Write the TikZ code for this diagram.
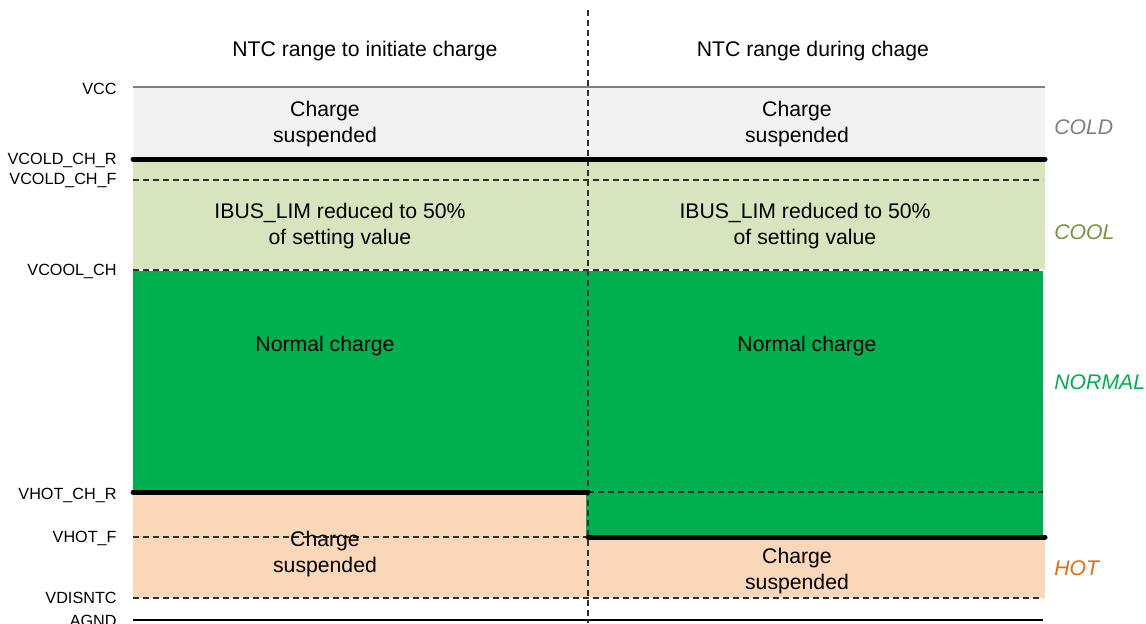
\documentclass[tikz,border=0pt]{standalone}
\usepackage{fontspec}
\setmainfont{Liberation Sans}
\definecolor{coldgray}{HTML}{F2F2F2}
\definecolor{coolgreen}{HTML}{D7E4BD}
\definecolor{normgreen}{HTML}{00B050}
\definecolor{hotpeach}{HTML}{FBD7B9}
\definecolor{coldtext}{HTML}{7F7F7F}
\definecolor{cooltext}{HTML}{77933C}
\definecolor{hottext}{HTML}{E46C0A}
\definecolor{dashgray}{HTML}{303030}

\begin{document}
\begin{tikzpicture}[
      x=0.5pt,y=-0.5pt,
      zonetext/.style={align=center,inner sep=0pt,
                   font=\fontsize{10.6}{12.6}\selectfont},
      levellabel/.style={anchor=east,inner sep=0pt,
                   font=\fontsize{8.1}{9}\selectfont},
      zonename/.style={anchor=west,inner sep=0pt,
                   font=\fontsize{10.6}{12.6}\selectfont\itshape},
      threshold/.style={line width=2.5pt,line cap=round},
      hyst/.style={dashgray,line width=0.6pt,dash pattern=on 3pt off 2pt}
    ]
    \useasboundingbox (0,0) rectangle (1146,623);
    % zones
    \fill[coldgray] (133,87) rectangle (1045,159);
    \fill[coolgreen] (133,159) rectangle (1045,269);
    \fill[normgreen] (133,271) rectangle (1043,492);
    \fill[normgreen] (586,492) rectangle (1043,537);
    \fill[hotpeach] (133,492) rectangle (586,598);
    \fill[hotpeach] (586,537) rectangle (1045,598);
    % levels
    \draw[coldtext,line width=0.75pt] (133,87) -- (1045,87);
    \draw[hyst] (133,180) -- (1043,180);
    \draw[hyst] (133,270) -- (1043,270);
    \draw[hyst] (588,492) -- (1043,492);
    \draw[hyst] (133,537) -- (588,537);
    \draw[hyst] (133,598) -- (1043,598);
    \draw[black,line width=0.6pt] (133,620) -- (1043,620);
    \draw[hyst] (588,10) -- (588,623);
    \draw[threshold] (133,159) -- (1045,159);
    \draw[threshold] (133,492) -- (588,492);
    \draw[threshold] (588,537) -- (1045,537);
    % level names
    \node[levellabel] (vcc) at (117,89) {VCC};
    \node[levellabel] (vcoldr) at (117,160) {VCOLD\_CH\_R};
    \node[levellabel] (vcoldf) at (117,180) {VCOLD\_CH\_F};
    \node[levellabel] (vcool) at (117,271) {VCOOL\_CH};
    \node[levellabel] (vhotr) at (117,495) {VHOT\_CH\_R};
    \node[levellabel] (vhotf) at (117,538) {VHOT\_F};
    \node[levellabel] (vdis) at (117,598) {VDISNTC};
    \node[levellabel] (agnd) at (117,621) {AGND};
    % column titles
    \node[zonetext] (initttl) at (365,51) {NTC range to initiate charge};
    \node[zonetext] (chgttl) at (813,51) {NTC range during chage};
    % left column
    \node[zonetext] (lcold) at (325,124) {Charge\\suspended};
    \node[zonetext] (lcool) at (340,226) {IBUS\_LIM reduced to 50\%\\of setting value};
    \node[zonetext] (lnorm) at (325,346) {Normal charge};
    \node[zonetext] (lhot) at (325,554) {Charge\\suspended};
    % right column
    \node[zonetext] (rcold) at (797,124) {Charge\\suspended};
    \node[zonetext] (rcool) at (805,226) {IBUS\_LIM reduced to 50\%\\of setting value};
    \node[zonetext] (rnorm) at (807,346) {Normal charge};
    \node[zonetext] (rhot) at (797,571) {Charge\\suspended};
    % zone names
    \node[zonename,text=coldtext] (cold) at (1054,127) {COLD};
    \node[zonename,text=cooltext] (cool) at (1054,232) {COOL};
    \node[zonename,text=normgreen] (normal) at (1054,382) {NORMAL};
    \node[zonename,text=hottext] (hot) at (1054,568) {HOT};
  \end{tikzpicture}
\end{document}
